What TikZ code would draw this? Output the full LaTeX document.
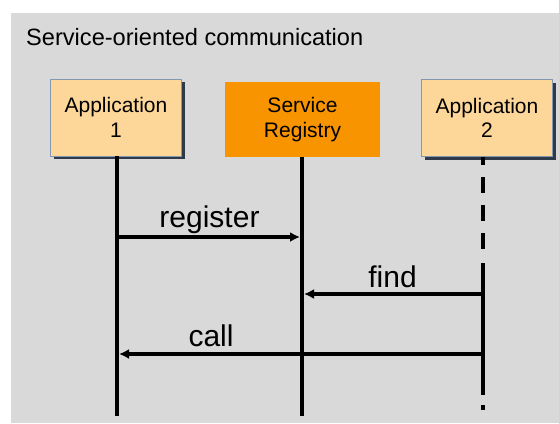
\documentclass[tikz,border=0pt]{standalone}
\usepackage{fontspec}
\setmainfont{Liberation Sans}
\usetikzlibrary{arrows.meta,shadows}
\definecolor{bgGray}{HTML}{D9D9D9}
\definecolor{appFill}{HTML}{FDD699}
\definecolor{regFill}{HTML}{F79400}
\definecolor{boxEdge}{HTML}{8497B0}
\definecolor{boxShade}{HTML}{2E3A4A}
\begin{document}
\begin{tikzpicture}[x=1pt, y=-1pt,
        app/.style={rectangle, draw=boxEdge, line width=0.8pt, fill=appFill, inner sep=0pt,
            minimum width=131pt, minimum height=77pt, align=center,
            font=\fontsize{21}{24.7}\selectfont,
            drop shadow={shadow xshift=3pt, shadow yshift=-3pt, fill=boxShade, opacity=1}},
        registry/.style={rectangle, fill=regFill, inner sep=0pt,
            minimum width=155pt, minimum height=75pt, align=center,
            font=\fontsize{21}{24.7}\selectfont},
        life/.style={line width=4pt},
        msg/.style={-{Latex[length=10pt,width=10pt]}, line width=3.2pt, shorten >=2pt},
        lbl/.style={font=\fontsize{30}{34}\selectfont, anchor=base}
    ]
        \useasboundingbox (0,0) rectangle (559,423);
        % Background
        \fill[bgGray] (11,13) rectangle (559,423);
        \node[anchor=base west, inner sep=0pt, font=\fontsize{23.6}{28}\selectfont] (title) at (26,45) {Service-oriented communication};

        % Lifeline ends
        \coordinate (e1) at (117,416);
        \coordinate (e2) at (302,416);
        \coordinate (d2) at (483,249);
        \coordinate (s2a) at (483,263);
        \coordinate (s2b) at (483,395);
        \coordinate (p2a) at (483,405);
        \coordinate (p2b) at (483,410);

        % Participants
        \node[app] (app1) at (116,117.5) {Application\\1};
        \node[registry] (reg) at (302.5,119.5) {Service\\Registry};
        \node[app] (app2) at (487,118) {Application\\2};

        % Lifelines
        \draw[life] (app1.south -| e1) -- (e1);
        \draw[life] (reg.south -| e2) -- (e2);
        \draw[life, dash pattern=on 16pt off 12pt, dash phase=8pt] (app2.south -| d2) -- (d2);
        \draw[life] (s2a) -- (s2b);
        \draw[life] (p2a) -- (p2b);

        % Messages
        \draw[msg] (e1 |- 0,237) -- (e2 |- 0,237) node[lbl, midway, yshift=10pt] (register) {register};
        \draw[msg] (s2a |- 0,294) -- (e2 |- 0,294) node[lbl, midway, yshift=7pt] (find) {find};
        \draw[msg] (s2a |- 0,354) -- (e1 |- 0,354) node[lbl, pos=0.743, yshift=7.5pt] (call) {call};
    \end{tikzpicture}
\end{document}
